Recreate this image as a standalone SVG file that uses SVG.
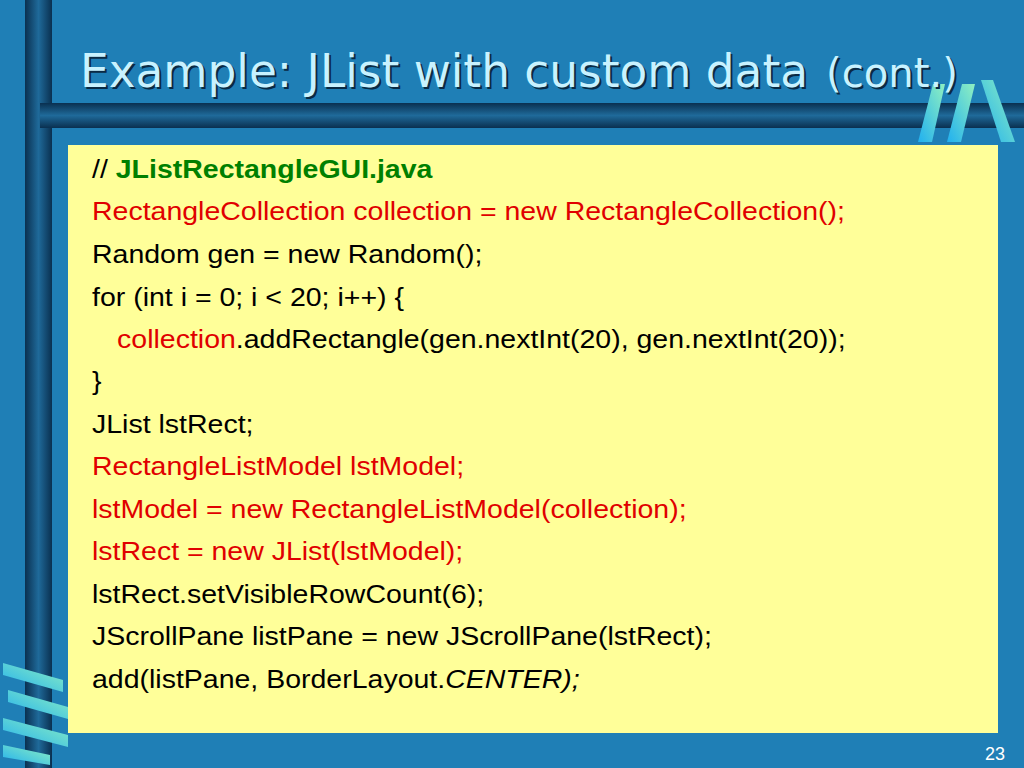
<svg xmlns="http://www.w3.org/2000/svg" width="1024" height="768" viewBox="0 0 1024 768">
<defs>
<linearGradient id="vb" x1="0" x2="1" y1="0" y2="0"><stop offset="0" stop-color="#0a3050"/><stop offset="0.5" stop-color="#1f6a9a"/><stop offset="1" stop-color="#0a3050"/></linearGradient>
<linearGradient id="hb" x1="0" x2="0" y1="0" y2="1"><stop offset="0" stop-color="#0a3050"/><stop offset="0.5" stop-color="#1f6a9a"/><stop offset="1" stop-color="#0a3050"/></linearGradient>
<linearGradient id="st" x1="0" x2="1" y1="1" y2="0"><stop offset="0" stop-color="#20b0f0"/><stop offset="1" stop-color="#90f0c0"/></linearGradient>
<style>
.c{font-family:"Liberation Sans",Arial,sans-serif;font-size:25px;fill:#000}
.r{fill:#e00000}.g{fill:#008000;font-weight:bold}
.t{font-family:"DejaVu Sans",sans-serif}
</style>
</defs>
<rect width="1024" height="768" fill="#1f7fb6"/>
<rect x="25" y="0" width="27" height="768" fill="url(#vb)"/>
<rect x="40" y="103" width="984" height="25" fill="url(#hb)"/>
<g id="logo-top" fill="url(#st)">
<polygon points="933,84 945,84 932,142 918,142"/>
<polygon points="962,84 975,84 961,142 947,142"/>
<polygon points="981,80 993,80 1015,142 1001,142"/>
</g>
<g id="logo-bottom" fill="url(#st)">
<polygon points="3,663 63,680 63,692 3,675"/>
<polygon points="8,690 68,707 68,719 8,702"/>
<polygon points="3,718 68,735 68,747 3,730"/>
<polygon points="3,745 50,755 50,765 3,757"/>
</g>
<g id="title">
<text x="82" y="89" class="t" font-size="46" fill="#0a2a44" textLength="728" lengthAdjust="spacingAndGlyphs">Example: JList with custom data</text>
<text x="828" y="89" class="t" font-size="40" fill="#0a2a44" textLength="132" lengthAdjust="spacingAndGlyphs">(cont.)</text>
<text x="80" y="87" class="t" font-size="46" fill="#c8f2ff" textLength="728" lengthAdjust="spacingAndGlyphs">Example: JList with custom data</text>
<text x="826" y="87" class="t" font-size="40" fill="#c8f2ff" textLength="132" lengthAdjust="spacingAndGlyphs">(cont.)</text>
</g>
<rect x="68" y="145" width="930" height="588" fill="#ffff99"/>
<g id="code" class="c" transform="translate(92 0) scale(1.14 1) translate(-92 0)">
<text x="92" y="178" class="c">// <tspan class="g">JListRectangleGUI.java</tspan></text>
<text x="92" y="220" class="c r">RectangleCollection collection = new RectangleCollection();</text>
<text x="92" y="263" class="c">Random gen = new Random();</text>
<text x="92" y="306" class="c">for (int i = 0; i &lt; 20; i++) {</text>
<text x="114" y="348" class="c"><tspan class="r">collection</tspan>.addRectangle(gen.nextInt(20), gen.nextInt(20));</text>
<text x="92" y="390" class="c">}</text>
<text x="92" y="433" class="c">JList lstRect;</text>
<text x="92" y="475" class="c r">RectangleListModel lstModel;</text>
<text x="92" y="518" class="c r">lstModel = new RectangleListModel(collection);</text>
<text x="92" y="560" class="c r">lstRect = new JList(lstModel);</text>
<text x="92" y="603" class="c">lstRect.setVisibleRowCount(6);</text>
<text x="92" y="645" class="c">JScrollPane listPane = new JScrollPane(lstRect);</text>
<text x="92" y="688" class="c">add(listPane, BorderLayout.<tspan font-style="italic">CENTER);</tspan></text>
</g>
<text x="1005" y="760" font-family="Liberation Sans,sans-serif" font-size="18" fill="#fff" text-anchor="end">23</text>
</svg>
